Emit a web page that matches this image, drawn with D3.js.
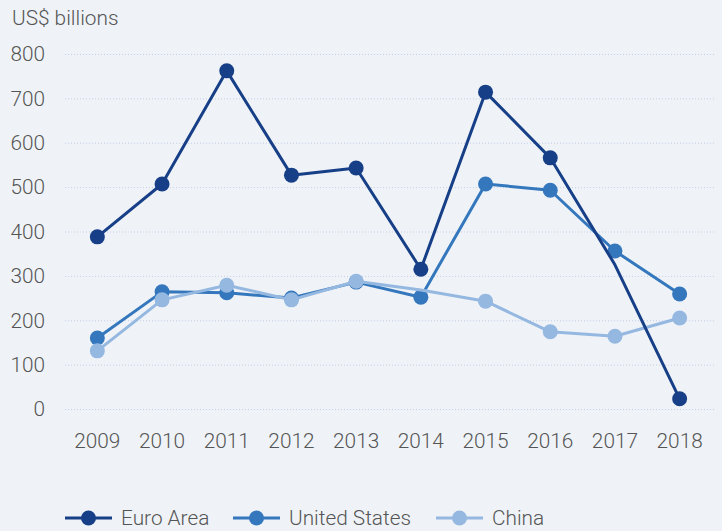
<!DOCTYPE html>
<html>
<head>
<meta charset="utf-8">
<script src="https://cdn.jsdelivr.net/npm/d3@7"></script>
<style>
  html, body { margin: 0; padding: 0; background: #eff3f7; }
  svg text { font-family: Roboto, "Liberation Sans", sans-serif; font-weight: 300; fill: #555; }
</style>
</head>
<body>
<svg id="chart" width="722" height="531"></svg>
<script>
// data (US$ billions)
var years = ["2009", "2010", "2011", "2012", "2013", "2014", "2015", "2016", "2017", "2018"];
var euroArea = [388, 507, 762, 527, 543, 315, 714, 566, 325, 23];
var unitedStates = [160, 264, 262, 250, 286, 252, 507, 493, 356, 259];
var china = [131, 246, 279, 246, 288, 268, 243, 174, 164, 205];
var yTicks = [0, 100, 200, 300, 400, 500, 600, 700, 800];
// points drawn without a marker in the original
var euroNoMarker = ["2017"];
var chinaNoMarker = ["2014"];

var series = [
    {name: "United States", values: unitedStates, color: "#3477bd", hide: []},
    {name: "China", values: china, color: "#95b8e1", hide: chinaNoMarker},
    {name: "Euro Area", values: euroArea, color: "#173f87", hide: euroNoMarker}
];
var legendOrder = ["Euro Area", "United States", "China"];

var svg = d3.select("#chart");
var plotLeft = 65, plotRight = 715;
var fontSize = 20.8;

var x = d3.scalePoint()
    .domain(years)
    .range([plotLeft, 712])
    .padding(0.5);

var y = d3.scaleLinear()
    .domain([0, 800])
    .range([409, 54]);

//Grid lines
svg.append("g")
    .selectAll("line")
    .data(yTicks)
    .enter().append("line")
    .attr("x1", plotLeft)
    .attr("x2", plotRight)
    .attr("y1", function(d) { return y(d) + 0.5; })
    .attr("y2", function(d) { return y(d) + 0.5; })
    .attr("stroke", "#c3cfe8")
    .attr("stroke-width", 1)
    .attr("stroke-dasharray", "1,2");

//Y Axis labels
svg.append("g")
    .selectAll("text")
    .data(yTicks)
    .enter().append("text")
    .attr("x", 45)
    .attr("y", function(d) { return y(d); })
    .attr("dy", "0.35em")
    .attr("text-anchor", "end")
    .attr("font-size", fontSize)
    .text(function(d) { return d; });

//Unit label
svg.append("text")
    .attr("x", 12)
    .attr("y", 25)
    .attr("font-size", fontSize)
    .text("US$ billions");

//X Axis labels
svg.append("g")
    .selectAll("text")
    .data(years)
    .enter().append("text")
    .attr("x", function(d) { return x(d); })
    .attr("y", 448)
    .attr("text-anchor", "middle")
    .attr("font-size", fontSize)
    .text(function(d) { return d; });

var line = d3.line()
    .x(function(d) { return x(d.year); })
    .y(function(d) { return y(d.value); });

//Series
series.forEach(function(s) {
    var pts = years.map(function(yr, i) { return {year: yr, value: s.values[i]}; });
    var g = svg.append("g");
    g.append("path")
        .datum(pts)
        .attr("fill", "none")
        .attr("stroke", s.color)
        .attr("stroke-width", 3)
        .attr("stroke-linejoin", "round")
        .attr("d", line);
    g.selectAll("circle")
        .data(pts.filter(function(p) { return s.hide.indexOf(p.year) < 0; }))
        .enter().append("circle")
        .attr("cx", function(d) { return x(d.year); })
        .attr("cy", function(d) { return y(d.value); })
        .attr("r", 7.5)
        .attr("fill", s.color);
});

//Legend
var legendX = [65, 233, 436];
var legend = svg.append("g");
legendOrder.forEach(function(name, i) {
    var s = series.find(function(d) { return d.name === name; });
    var lx = legendX[i], ly = 518;
    legend.append("line")
        .attr("x1", lx).attr("x2", lx + 47)
        .attr("y1", ly).attr("y2", ly)
        .attr("stroke", s.color)
        .attr("stroke-width", 3);
    legend.append("circle")
        .attr("cx", lx + 23.5)
        .attr("cy", ly)
        .attr("r", 7.5)
        .attr("fill", s.color);
    legend.append("text")
        .attr("x", lx + 56)
        .attr("y", ly)
        .attr("dy", "0.35em")
        .attr("font-size", fontSize)
        .text(name);
});
</script>
</body>
</html>
